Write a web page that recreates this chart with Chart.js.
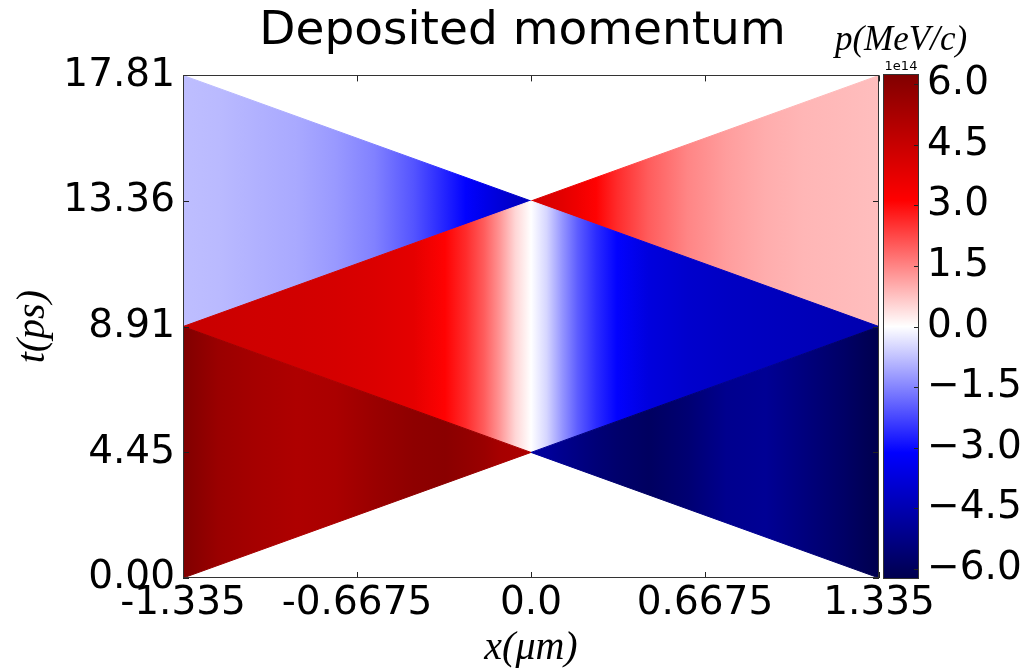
<!DOCTYPE html>
<html>
<head>
<meta charset="utf-8">
<title>Deposited momentum</title>
<script src="https://cdn.jsdelivr.net/npm/chart.js@4.4.1/dist/chart.umd.min.js"></script>
<style>
  body { margin: 0; background: #fff; overflow: hidden; }
  #main { position: absolute; left: 0; top: 0; width: 1021px; height: 672px; }
  #bar { position: absolute; left: 781px; top: 0; width: 240px; height: 672px; }
</style>
</head>
<body>
<div id="main"><canvas id="momentumMap"></canvas></div>
<div id="bar"><canvas id="colorBar"></canvas></div>
<script>
// axis ticks
const xTicks = [-1.335, -0.6675, 0, 0.6675, 1.335];
const xTickLabels = ['-1.335', '-0.6675', '0.0', '0.6675', '1.335'];
const tTicks = [0, 4.45, 8.91, 13.36, 17.81];
const tTickLabels = ['0.00', '4.45', '8.91', '13.36', '17.81'];
const cbTicks = [-6, -4.5, -3, -1.5, 0, 1.5, 3, 4.5, 6];
const cbRange = [-6.25, 6.25]; // x 1e14 MeV/c

const xLeft = [-1.335, -1.2, -1.05, -0.9, -0.75, -0.6, -0.45, -0.33, -0.25, -0.18, -0.12, -0.06, 0];
const xRight = [0, 0.06, 0.12, 0.18, 0.25, 0.33, 0.45, 0.6, 0.75, 0.9, 1.05, 1.2, 1.335];
const xFull = xLeft.concat(xRight.slice(1));

// deposited momentum (1e14 MeV/c) in each region, at those x
const pBottomLeft = [6.25, 5.6, 5.3, 5.1, 5.2, 5.6, 5.9, 6.0, 5.8, 5.6, 5.3, 5.2, 5.1];
const pBottomRight = [-4.8, -4.9, -5.1, -5.3, -5.5, -5.7, -5.9, -5.6, -5.1, -5.0, -5.4, -5.8, -6.25];
const pMiddle = [4.5, 4.4, 4.3, 4.25, 4.15, 4.0, 3.75, 3.1, 2.6, 2.0, 1.3, 0.5, 0,
                 -0.5, -1.3, -2.0, -2.6, -3.1, -3.7, -4.0, -4.15, -4.25, -4.35, -4.45, -4.55];
const pTopLeft = [-0.8, -0.85, -0.95, -1.05, -1.25, -1.55, -2.1, -2.7, -3.1, -3.5, -3.8, -4.1, -4.3];
const pTopRight = [4.2, 4.0, 3.8, 3.5, 3.1, 2.6, 2.0, 1.5, 1.2, 1.0, 0.9, 0.85, 0.8];

// region outlines in (x, t): upper edge, lower edge
const bottomLeftUp = [[-1.335, 8.91], [0, 4.45]];
const bottomLeftLow = [[-1.335, 0], [0, 4.45]];
const bottomRightUp = [[0, 4.45], [1.335, 8.91]];
const bottomRightLow = [[0, 4.45], [1.335, 0]];
const middleUp = [[-1.335, 8.91], [0, 13.36], [1.335, 8.91]];
const middleLow = [[-1.335, 8.91], [0, 4.45], [1.335, 8.91]];
const topLeftUp = [[-1.335, 17.81], [0, 13.36]];
const topLeftLow = [[-1.335, 8.91], [0, 13.36]];
const topRightUp = [[0, 13.36], [1.335, 17.81]];
const topRightLow = [[0, 13.36], [1.335, 8.91]];

const regions = [
  [bottomLeftUp, bottomLeftLow, xLeft, pBottomLeft],
  [bottomRightUp, bottomRightLow, xRight, pBottomRight],
  [middleUp, middleLow, xFull, pMiddle],
  [topLeftUp, topLeftLow, xLeft, pTopLeft],
  [topRightUp, topRightLow, xRight, pTopRight]
];

// matplotlib "seismic"
function seismic(v) {
  let t = (v - cbRange[0]) / (cbRange[1] - cbRange[0]);
  t = Math.min(1, Math.max(0, t));
  const stops = [[0, 0, 0, 0.3], [0.25, 0, 0, 1], [0.5, 1, 1, 1], [0.75, 1, 0, 0], [1, 0.5, 0, 0]];
  for (let i = 1; i < stops.length; i++) {
    if (t <= stops[i][0]) {
      const a = stops[i - 1], b = stops[i];
      const f = (t - a[0]) / (b[0] - a[0]);
      const c = [1, 2, 3].map(k => Math.round(255 * (a[k] + f * (b[k] - a[k]))));
      return 'rgb(' + c.join(',') + ')';
    }
  }
  return 'rgb(128,0,0)';
}

function xGradient(chart, xs, p) {
  const { ctx, chartArea, scales } = chart;
  if (!chartArea) return 'rgba(0,0,0,0)';
  const x0 = scales.x.getPixelForValue(xs[0]);
  const x1 = scales.x.getPixelForValue(xs[xs.length - 1]);
  const g = ctx.createLinearGradient(x0, 0, x1, 0);
  xs.forEach((x, i) => {
    g.addColorStop((scales.x.getPixelForValue(x) - x0) / (x1 - x0), seismic(p[i]));
  });
  return g;
}

// frame + inward ticks like matplotlib
const frame = {
  id: 'frame',
  afterDraw(chart, args, opts) {
    const { ctx, chartArea: a, scales } = chart;
    ctx.save();
    ctx.strokeStyle = '#222';
    ctx.lineWidth = 1;
    ctx.beginPath();
    (opts.xSides || []).forEach(side => {
      scales.x.ticks.forEach(t => {
        const px = Math.round(scales.x.getPixelForValue(t.value)) + 0.5;
        const y0 = side === 'top' ? a.top : a.bottom;
        const d = side === 'top' ? opts.len : -opts.len;
        ctx.moveTo(px, y0);
        ctx.lineTo(px, y0 + d);
      });
    });
    (opts.ySides || []).forEach(side => {
      scales.y.ticks.forEach(t => {
        const py = Math.round(scales.y.getPixelForValue(t.value)) + 0.5;
        const x0 = side === 'left' ? a.left : a.right;
        const d = side === 'left' ? opts.len : -opts.len;
        ctx.moveTo(x0, py);
        ctx.lineTo(x0 + d, py);
      });
    });
    ctx.stroke();
    ctx.strokeStyle = '#333';
    ctx.strokeRect(Math.round(a.left) + 0.5, Math.round(a.top) + 0.5,
                   Math.round(a.width) - 1, Math.round(a.height) - 1);
    ctx.restore();
  }
};

const tickFont = { family: 'DejaVu Sans', size: 39 };
const mathFont = { family: 'Liberation Serif', style: 'italic', size: 40 };
// empty axis that only reserves room
const spacer = w => ({
  display: true,
  afterFit: s => { s.width = w; },
  ticks: { display: false },
  grid: { display: false, drawTicks: false },
  border: { display: false }
});

const datasets = [];
regions.forEach(([up, low, xs, p]) => {
  const paint = c => xGradient(c.chart, xs, p);
  datasets.push({
    data: up.map(([x, y]) => ({ x, y })),
    fill: '+1', backgroundColor: paint, borderColor: paint,
    borderWidth: 1, pointRadius: 0, tension: 0
  });
  datasets.push({
    data: low.map(([x, y]) => ({ x, y })),
    fill: false, borderColor: paint,
    borderWidth: 1, pointRadius: 0, tension: 0
  });
});

new Chart(document.getElementById('momentumMap'), {
  type: 'line',
  data: { datasets: datasets },
  plugins: [frame],
  options: {
    animation: false,
    responsive: true,
    maintainAspectRatio: false,
    layout: { padding: { left: 24, right: 0, top: 0, bottom: 0 } },
    plugins: {
      legend: { display: false },
      tooltip: { enabled: false },
      title: {
        display: true,
        text: 'Deposited momentum',
        color: '#000',
        font: { family: 'DejaVu Sans', size: 47, weight: 'normal' },
        padding: { top: 4, bottom: 15 }
      },
      frame: { xSides: ['top', 'bottom'], ySides: ['left', 'right'], len: 6 }
    },
    scales: {
      x: {
        type: 'linear',
        min: xTicks[0],
        max: xTicks[xTicks.length - 1],
        afterBuildTicks: s => { s.ticks = xTicks.map(v => ({ value: v })); },
        afterFit: s => { s.height = 94; },
        grid: { display: false, drawTicks: false },
        border: { display: false },
        ticks: {
          autoSkip: false, maxRotation: 0, color: '#000', font: tickFont, padding: 2,
          callback: (v, i) => xTickLabels[i]
        },
        title: { display: true, text: 'x(μm)', color: '#000', font: mathFont, padding: 0 }
      },
      y: {
        type: 'linear',
        min: tTicks[0],
        max: tTicks[tTicks.length - 1],
        afterBuildTicks: s => { s.ticks = tTicks.map(v => ({ value: v })); },
        afterFit: s => { s.width = 159; },
        grid: { display: false, drawTicks: false },
        border: { display: false },
        ticks: {
          autoSkip: false, color: '#000', font: tickFont, padding: 8,
          callback: (v, i) => tTickLabels[i]
        },
        title: { display: true, text: 't(ps)', color: '#000', font: mathFont, padding: { top: -15, bottom: 0 } }
      },
      yRoom: Object.assign({ position: 'right' }, spacer(142))
    }
  }
});

// colour bar
const cbAnchors = [0, 0.25, 0.5, 0.75, 1].map(t => cbRange[0] + t * (cbRange[1] - cbRange[0]));

new Chart(document.getElementById('colorBar'), {
  type: 'bar',
  data: {
    labels: ['p'],
    datasets: [{
      data: [cbRange],
      barPercentage: 1,
      categoryPercentage: 1,
      borderWidth: 0,
      backgroundColor: c => {
        const { ctx, chartArea, scales } = c.chart;
        if (!chartArea) return 'rgba(0,0,0,0)';
        const y0 = scales.y.getPixelForValue(cbRange[0]);
        const y1 = scales.y.getPixelForValue(cbRange[1]);
        const g = ctx.createLinearGradient(0, y0, 0, y1);
        cbAnchors.forEach(v => g.addColorStop((v - cbRange[0]) / (cbRange[1] - cbRange[0]), seismic(v)));
        return g;
      }
    }]
  },
  plugins: [frame],
  options: {
    animation: false,
    responsive: true,
    maintainAspectRatio: false,
    layout: { padding: { left: 0, right: 0, top: 0, bottom: 93 } },
    plugins: {
      legend: { display: false },
      tooltip: { enabled: false },
      title: {
        display: true,
        text: 'p(MeV/c)',
        color: '#000',
        font: { family: 'Liberation Serif', style: 'italic', weight: 'normal', size: 35, lineHeight: 1 },
        padding: { top: 23, bottom: 0 }
      },
      subtitle: {
        display: true,
        text: '1e14',
        color: '#000',
        font: { family: 'DejaVu Sans', size: 13, lineHeight: 1 },
        padding: { top: 2, bottom: 1 }
      },
      frame: { xSides: [], ySides: ['right'], len: 5 }
    },
    scales: {
      x: { display: false },
      y: {
        position: 'right',
        min: cbRange[0],
        max: cbRange[1],
        afterBuildTicks: s => { s.ticks = cbTicks.map(v => ({ value: v })); },
        afterFit: s => { s.width = 102; },
        grid: { display: false, drawTicks: false },
        border: { display: false },
        ticks: {
          autoSkip: false, color: '#000', font: tickFont, padding: 8,
          callback: v => v.toFixed(1).replace('-', '\u2212')
        }
      },
      yRoom: Object.assign({ position: 'left' }, spacer(102))
    }
  }
});
</script>
</body>
</html>
